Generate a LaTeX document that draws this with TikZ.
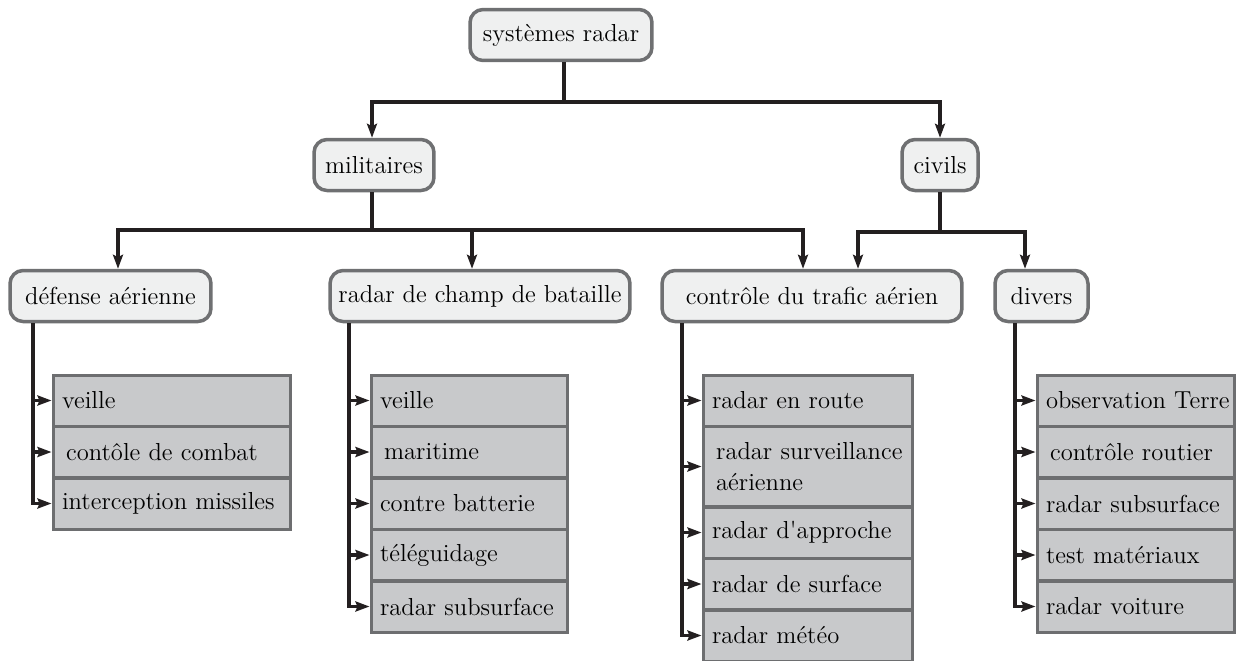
\documentclass[tikz,border=0pt]{standalone}
\usetikzlibrary{arrows.meta}

\definecolor{inkblack}{HTML}{231F20}
\definecolor{headfill}{HTML}{EFF0F0}
\definecolor{headedge}{HTML}{6F7072}
\definecolor{itemfill}{HTML}{C8C9CB}
\definecolor{itemedge}{HTML}{6D6E70}

\tikzset{
  labelfont/.style={font=\fontsize{14}{18}\selectfont},
  head/.style={labelfont, draw=headedge, fill=headfill, line width=0.07cm,
    rounded corners=0.26cm, minimum height=1.02cm, inner sep=0pt, anchor=center},
  item/.style={labelfont, draw=itemedge, fill=itemfill, line width=0.06cm,
    inner xsep=0.18cm, inner ysep=0pt, align=left, minimum height=1.02cm, anchor=center},
  link/.style={draw=inkblack, line width=0.075cm, line join=miter},
  down/.style={-{Stealth[length=0.28cm,width=0.2cm,inset=0.05cm]}},
  both/.style={{Stealth[length=0.28cm,width=0.2cm,inset=0.05cm]}-{Stealth[length=0.28cm,width=0.2cm,inset=0.05cm]}},
  side/.style={-{Stealth[length=0.28cm,width=0.2cm,inset=0.04cm]}},
}

\begin{document}
\begin{tikzpicture}[x=0.02cm,y=-0.02cm]
\useasboundingbox (0,0) rectangle (1237,660);

% top level
\node[head, minimum width=3.64cm] (sys) at (561,35) {systèmes radar};
\node[head, minimum width=2.40cm] (mil) at (374,165) {militaires};
\node[head, minimum width=1.52cm] (civ) at (940,165) {civils};

% second level
\node[head, minimum width=4.02cm] (def) at (110.5,296) {défense aérienne};
\node[head, minimum width=6.00cm] (champ) at (480,296) {radar de champ de bataille};
\node[head, minimum width=6.00cm] (ctrl) at (812,296) {contrôle du trafic aérien};
\node[head, minimum width=1.86cm] (div) at (1041.5,296) {divers};

% reference x positions of connectors
\coordinate (xs) at (564,0);
\coordinate (xm) at (372,0);
\coordinate (xc) at (940,0);
\coordinate (xd) at (118,0);
\coordinate (xb) at (472,0);
\coordinate (xt) at (803,0);
\coordinate (xu) at (858,0);
\coordinate (xv) at (1025,0);
\coordinate (busTop) at (564,102);
\coordinate (busMil) at (372,230);
\coordinate (busCiv) at (940,232);

% tree connectors
\draw[link] (sys.south -| xs) -- (busTop);
\draw[link,both] (mil.north -| xm) |- (busTop) -| (civ.north -| xc);

\draw[link] (mil.south -| xm) -- (busMil);
\draw[link,both] (def.north -| xd) |- (busMil) -| (ctrl.north -| xt);
\draw[link,down] (xb |- busMil) -- (champ.north -| xb);

\draw[link] (civ.south -| xc) -- (busCiv);
\draw[link,both] (ctrl.north -| xu) |- (busCiv) -| (div.north -| xv);

% lists of the second-level groups
\node[item, text width=4.40cm] (d1) at (172,400.5) {veille};
\node[item, text width=4.40cm] (d2) at (172,452) {\,\mbox{contôle de combat}};
\node[item, text width=4.40cm] (d3) at (172,503.5) {\mbox{interception missiles}};

\node[item, text width=3.58cm] (b1) at (469.5,400.5) {veille};
\node[item, text width=3.58cm] (b2) at (469.5,452) {\,maritime};
\node[item, text width=3.58cm] (b3) at (469.5,503.5) {\mbox{contre batterie}};
\node[item, text width=3.58cm] (b4) at (469.5,555) {téléguidage};
\node[item, text width=3.58cm] (b5) at (469.5,606.5) {\mbox{radar subsurface}};

\node[item, text width=3.84cm] (t1) at (808,400.5) {\mbox{radar en route}};
\node[item, text width=3.84cm, minimum height=1.6cm] (t2) at (808,466.5) {\,\mbox{radar surveillance}\\\,aérienne};
\node[item, text width=3.84cm] (t3) at (808,532.5) {\mbox{radar d\textquotesingle approche}};
\node[item, text width=3.84cm] (t4) at (808,584) {\mbox{radar de surface}};
\node[item, text width=3.84cm] (t5) at (808,635.5) {\mbox{radar météo}};

\node[item, text width=3.60cm] (v1) at (1136,400.5) {\mbox{observation Terre}};
\node[item, text width=3.60cm] (v2) at (1136,452) {\,\mbox{contrôle routier}};
\node[item, text width=3.60cm] (v3) at (1136,503.5) {\mbox{radar subsurface}};
\node[item, text width=3.60cm] (v4) at (1136,555) {\mbox{test matériaux}};
\node[item, text width=3.60cm] (v5) at (1136,606.5) {\mbox{radar voiture}};

% list stems
\coordinate (sd) at (33,0);
\coordinate (sb) at (349,0);
\coordinate (st) at (682,0);
\coordinate (sv) at (1015,0);

\draw[link,side] (def.south -| sd) |- (d3.west);
\foreach \n in {d1,d2} \draw[link,side] (sd |- \n.west) -- (\n.west);

\draw[link,side] (champ.south -| sb) |- (b5.west);
\foreach \n in {b1,b2,b3,b4} \draw[link,side] (sb |- \n.west) -- (\n.west);

\draw[link,side] (ctrl.south -| st) |- (t5.west);
\foreach \n in {t1,t2,t3,t4} \draw[link,side] (st |- \n.west) -- (\n.west);

\draw[link,side] (div.south -| sv) |- (v5.west);
\foreach \n in {v1,v2,v3,v4} \draw[link,side] (sv |- \n.west) -- (\n.west);
\end{tikzpicture}
\end{document}
